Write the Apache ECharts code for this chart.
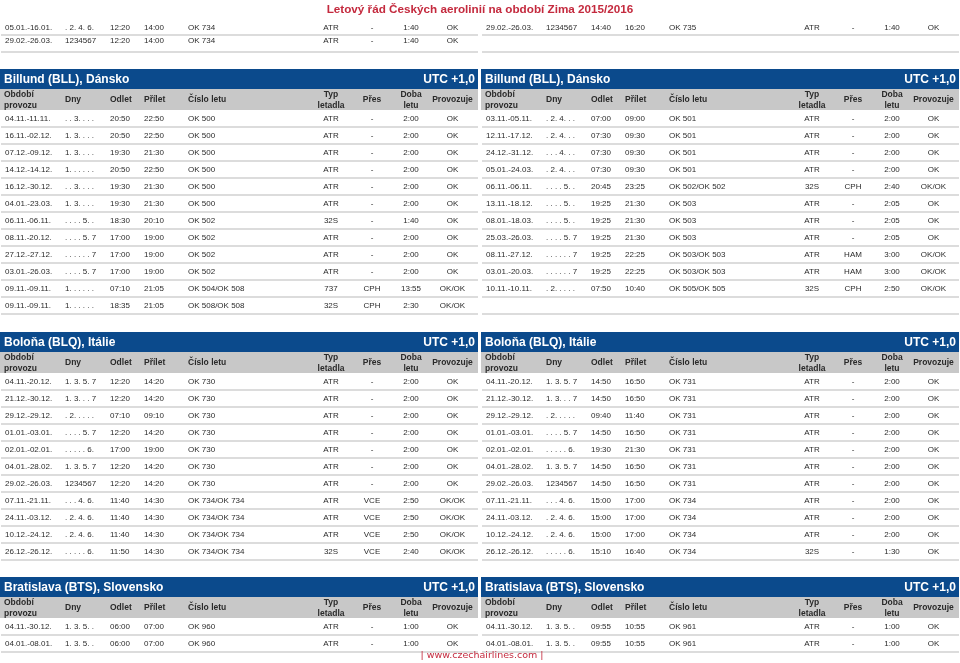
<!DOCTYPE html>
<html><head><meta charset="utf-8">
<script src="https://cdn.jsdelivr.net/npm/echarts@6/dist/echarts.min.js"></script>
<style>html,body{margin:0;padding:0;background:#fff}#c{width:960px;height:663px}</style>
</head><body><div id="c"></div>
<script>
// ---------- data ----------
const pageTitle = 'Letový řád Českých aerolinií na období Zima 2015/2016';
const footerText = '| www.czechairlines.com |';
const utcLabel = 'UTC +1,0';
const headerLabels = [
  ['Období', 'provozu'], ['Dny'], ['Odlet'], ['Přílet'], ['Číslo letu'],
  ['Typ', 'letadla'], ['Přes'], ['Doba', 'letu'], ['Provozuje']
];

const topLeft = [
  ['05.01.-16.01.', '. 2. 4. 6.', '12:20', '14:00', 'OK 734', 'ATR', '-', '1:40', 'OK'],
  ['29.02.-26.03.', '1234567', '12:20', '14:00', 'OK 734', 'ATR', '-', '1:40', 'OK']
];
const topRight = [
  ['29.02.-26.03.', '1234567', '14:40', '16:20', 'OK 735', 'ATR', '-', '1:40', 'OK']
];

const billundName = 'Billund (BLL), Dánsko';
const billundLeft = [
  ['04.11.-11.11.', '. . 3. . . .', '20:50', '22:50', 'OK 500', 'ATR', '-', '2:00', 'OK'],
  ['16.11.-02.12.', '1. 3. . . .', '20:50', '22:50', 'OK 500', 'ATR', '-', '2:00', 'OK'],
  ['07.12.-09.12.', '1. 3. . . .', '19:30', '21:30', 'OK 500', 'ATR', '-', '2:00', 'OK'],
  ['14.12.-14.12.', '1. . . . . .', '20:50', '22:50', 'OK 500', 'ATR', '-', '2:00', 'OK'],
  ['16.12.-30.12.', '. . 3. . . .', '19:30', '21:30', 'OK 500', 'ATR', '-', '2:00', 'OK'],
  ['04.01.-23.03.', '1. 3. . . .', '19:30', '21:30', 'OK 500', 'ATR', '-', '2:00', 'OK'],
  ['06.11.-06.11.', '. . . . 5. .', '18:30', '20:10', 'OK 502', '32S', '-', '1:40', 'OK'],
  ['08.11.-20.12.', '. . . . 5. 7', '17:00', '19:00', 'OK 502', 'ATR', '-', '2:00', 'OK'],
  ['27.12.-27.12.', '. . . . . . 7', '17:00', '19:00', 'OK 502', 'ATR', '-', '2:00', 'OK'],
  ['03.01.-26.03.', '. . . . 5. 7', '17:00', '19:00', 'OK 502', 'ATR', '-', '2:00', 'OK'],
  ['09.11.-09.11.', '1. . . . . .', '07:10', '21:05', 'OK 504/OK 508', '737', 'CPH', '13:55', 'OK/OK'],
  ['09.11.-09.11.', '1. . . . . .', '18:35', '21:05', 'OK 508/OK 508', '32S', 'CPH', '2:30', 'OK/OK']
];
const billundRight = [
  ['03.11.-05.11.', '. 2. 4. . .', '07:00', '09:00', 'OK 501', 'ATR', '-', '2:00', 'OK'],
  ['12.11.-17.12.', '. 2. 4. . .', '07:30', '09:30', 'OK 501', 'ATR', '-', '2:00', 'OK'],
  ['24.12.-31.12.', '. . . 4. . .', '07:30', '09:30', 'OK 501', 'ATR', '-', '2:00', 'OK'],
  ['05.01.-24.03.', '. 2. 4. . .', '07:30', '09:30', 'OK 501', 'ATR', '-', '2:00', 'OK'],
  ['06.11.-06.11.', '. . . . 5. .', '20:45', '23:25', 'OK 502/OK 502', '32S', 'CPH', '2:40', 'OK/OK'],
  ['13.11.-18.12.', '. . . . 5. .', '19:25', '21:30', 'OK 503', 'ATR', '-', '2:05', 'OK'],
  ['08.01.-18.03.', '. . . . 5. .', '19:25', '21:30', 'OK 503', 'ATR', '-', '2:05', 'OK'],
  ['25.03.-26.03.', '. . . . 5. 7', '19:25', '21:30', 'OK 503', 'ATR', '-', '2:05', 'OK'],
  ['08.11.-27.12.', '. . . . . . 7', '19:25', '22:25', 'OK 503/OK 503', 'ATR', 'HAM', '3:00', 'OK/OK'],
  ['03.01.-20.03.', '. . . . . . 7', '19:25', '22:25', 'OK 503/OK 503', 'ATR', 'HAM', '3:00', 'OK/OK'],
  ['10.11.-10.11.', '. 2. . . . .', '07:50', '10:40', 'OK 505/OK 505', '32S', 'CPH', '2:50', 'OK/OK']
];

const bolognaName = 'Boloňa (BLQ), Itálie';
const bolognaLeft = [
  ['04.11.-20.12.', '1. 3. 5. 7', '12:20', '14:20', 'OK 730', 'ATR', '-', '2:00', 'OK'],
  ['21.12.-30.12.', '1. 3. . . 7', '12:20', '14:20', 'OK 730', 'ATR', '-', '2:00', 'OK'],
  ['29.12.-29.12.', '. 2. . . . .', '07:10', '09:10', 'OK 730', 'ATR', '-', '2:00', 'OK'],
  ['01.01.-03.01.', '. . . . 5. 7', '12:20', '14:20', 'OK 730', 'ATR', '-', '2:00', 'OK'],
  ['02.01.-02.01.', '. . . . . 6.', '17:00', '19:00', 'OK 730', 'ATR', '-', '2:00', 'OK'],
  ['04.01.-28.02.', '1. 3. 5. 7', '12:20', '14:20', 'OK 730', 'ATR', '-', '2:00', 'OK'],
  ['29.02.-26.03.', '1234567', '12:20', '14:20', 'OK 730', 'ATR', '-', '2:00', 'OK'],
  ['07.11.-21.11.', '. . . 4. 6.', '11:40', '14:30', 'OK 734/OK 734', 'ATR', 'VCE', '2:50', 'OK/OK'],
  ['24.11.-03.12.', '. 2. 4. 6.', '11:40', '14:30', 'OK 734/OK 734', 'ATR', 'VCE', '2:50', 'OK/OK'],
  ['10.12.-24.12.', '. 2. 4. 6.', '11:40', '14:30', 'OK 734/OK 734', 'ATR', 'VCE', '2:50', 'OK/OK'],
  ['26.12.-26.12.', '. . . . . 6.', '11:50', '14:30', 'OK 734/OK 734', '32S', 'VCE', '2:40', 'OK/OK']
];
const bolognaRight = [
  ['04.11.-20.12.', '1. 3. 5. 7', '14:50', '16:50', 'OK 731', 'ATR', '-', '2:00', 'OK'],
  ['21.12.-30.12.', '1. 3. . . 7', '14:50', '16:50', 'OK 731', 'ATR', '-', '2:00', 'OK'],
  ['29.12.-29.12.', '. 2. . . . .', '09:40', '11:40', 'OK 731', 'ATR', '-', '2:00', 'OK'],
  ['01.01.-03.01.', '. . . . 5. 7', '14:50', '16:50', 'OK 731', 'ATR', '-', '2:00', 'OK'],
  ['02.01.-02.01.', '. . . . . 6.', '19:30', '21:30', 'OK 731', 'ATR', '-', '2:00', 'OK'],
  ['04.01.-28.02.', '1. 3. 5. 7', '14:50', '16:50', 'OK 731', 'ATR', '-', '2:00', 'OK'],
  ['29.02.-26.03.', '1234567', '14:50', '16:50', 'OK 731', 'ATR', '-', '2:00', 'OK'],
  ['07.11.-21.11.', '. . . 4. 6.', '15:00', '17:00', 'OK 734', 'ATR', '-', '2:00', 'OK'],
  ['24.11.-03.12.', '. 2. 4. 6.', '15:00', '17:00', 'OK 734', 'ATR', '-', '2:00', 'OK'],
  ['10.12.-24.12.', '. 2. 4. 6.', '15:00', '17:00', 'OK 734', 'ATR', '-', '2:00', 'OK'],
  ['26.12.-26.12.', '. . . . . 6.', '15:10', '16:40', 'OK 734', '32S', '-', '1:30', 'OK']
];

const bratislavaName = 'Bratislava (BTS), Slovensko';
const bratislavaLeft = [
  ['04.11.-30.12.', '1. 3. 5. .', '06:00', '07:00', 'OK 960', 'ATR', '-', '1:00', 'OK'],
  ['04.01.-08.01.', '1. 3. 5. .', '06:00', '07:00', 'OK 960', 'ATR', '-', '1:00', 'OK']
];
const bratislavaRight = [
  ['04.11.-30.12.', '1. 3. 5. .', '09:55', '10:55', 'OK 961', 'ATR', '-', '1:00', 'OK'],
  ['04.01.-08.01.', '1. 3. 5. .', '09:55', '10:55', 'OK 961', 'ATR', '-', '1:00', 'OK']
];

// ---------- layout / style ----------
const BLUE = '#0b4a8c', GRAY = '#c8c8c8', SEP = '#dcdcdc', RED = '#c42a3e';
const TXT = '#2b2b2b', HTXT = '#2a2a2a';
const FONT = 'Arial, "Liberation Sans", Helvetica, sans-serif';
const tableX = [0, 481];
const tableW = 478;
const BAR_H = 20, HEAD_H = 21, ROW_H = 17;
const colX = [5, 65, 110, 144, 188, 331, 372, 411, 452.5];
const colAlign = ['left', 'left', 'left', 'left', 'left', 'center', 'center', 'center', 'center'];
const headX = [4, 65, 110, 144, 188, 331, 372, 411, 452.5];

const sections = [
  { name: null, rowsTop: 18, textY: [27.3, 40.8], left: topLeft, right: topRight },
  { name: billundName, barY: 69, left: billundLeft, right: billundRight },
  { name: bolognaName, barY: 332, left: bolognaLeft, right: bolognaRight },
  { name: bratislavaName, barY: 577, left: bratislavaLeft, right: bratislavaRight }
];

const els = [];
function txt(x, y, s, font, fill, align, z) {
  els.push({ type: 'text', z: z || 10, silent: true,
    style: { text: s, x: x, y: y, font: font, fill: fill, textAlign: align, textVerticalAlign: 'middle' } });
}
function rect(x, y, w, h, fill) {
  els.push({ type: 'rect', z: 1, silent: true, shape: { x: x, y: y, width: w, height: h }, style: { fill: fill } });
}

// page title and footer
txt(480, 9.5, pageTitle, 'bold 11.7px ' + FONT, RED, 'center');
txt(482, 656, footerText, '9.5px "DejaVu Sans", Verdana, sans-serif', RED, 'center', 20);

sections.forEach(function (sec) {
  const nRows = Math.max(sec.left.length, sec.right.length);
  [sec.left, sec.right].forEach(function (rows, side) {
    const x0 = tableX[side];
    let rowsTop = sec.rowsTop;
    if (sec.name) {
      rect(x0, sec.barY, tableW, BAR_H, BLUE);
      txt(x0 + 4, sec.barY + BAR_H / 2 + 0.5, sec.name, 'bold 12px ' + FONT, '#ffffff', 'left');
      txt(x0 + 475, sec.barY + BAR_H / 2 + 0.5, utcLabel, 'bold 12px ' + FONT, '#ffffff', 'right');
      const hy = sec.barY + BAR_H;
      rect(x0, hy, tableW, HEAD_H, GRAY);
      headerLabels.forEach(function (lab, c) {
        const align = c < 5 ? 'left' : 'center';
        if (lab.length === 2) {
          txt(x0 + headX[c], hy + 5.6, lab[0], 'bold 8.5px ' + FONT, HTXT, align);
          txt(x0 + headX[c], hy + 16.6, lab[1], 'bold 8.5px ' + FONT, HTXT, align);
        } else {
          txt(x0 + headX[c], hy + 11, lab[0], 'bold 8.5px ' + FONT, HTXT, align);
        }
      });
      rowsTop = hy + HEAD_H;
    }
    for (let r = 0; r < nRows; r++) {
      const top = rowsTop + r * ROW_H;
      rect(x0 + 1, top + ROW_H - 1, tableW - 1, 2, SEP);
      const row = rows[r];
      if (!row) continue;
      const ty = sec.textY ? sec.textY[r] : top + 9;
      row.forEach(function (v, c) {
        txt(x0 + colX[c], ty, v, '8px ' + FONT, TXT, colAlign[c]);
      });
    }
  });
});

const chart = echarts.init(document.getElementById('c'), null, { renderer: 'canvas' });
chart.setOption({
  backgroundColor: '#ffffff',
  animation: false,
  graphic: { elements: els }
});
</script></body></html>
